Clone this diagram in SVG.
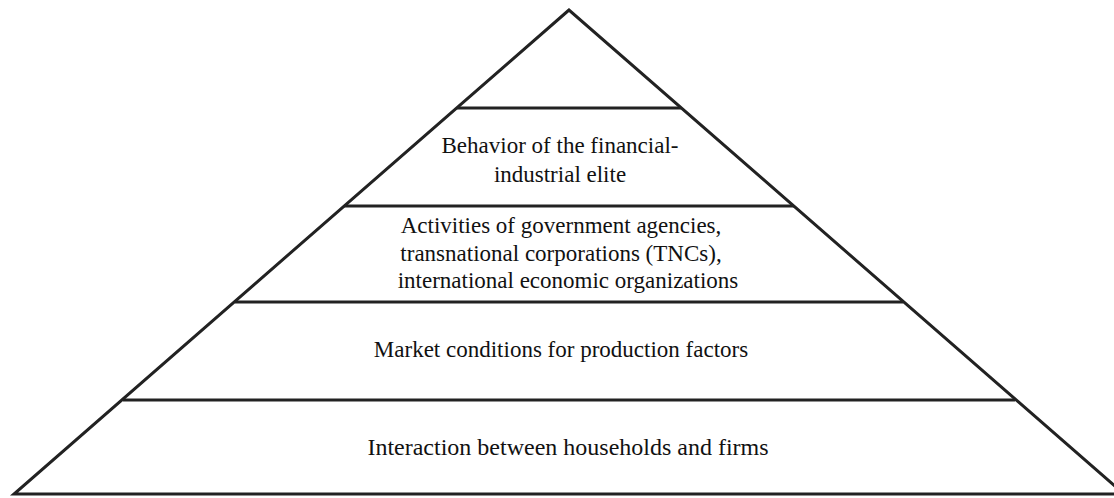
<svg xmlns="http://www.w3.org/2000/svg" width="1114" height="498" viewBox="0 0 1114 498">
<style>
.edge{stroke:#222;stroke-width:3;fill:none;stroke-linejoin:miter}
.lbl{font-family:"Liberation Serif","Times New Roman",serif;font-size:23px;fill:#111;text-anchor:middle}
</style>
<rect width="1114" height="498" fill="#fff"/>
<g id="connectors">
<polygon class="edge" points="569,10 14,494 1124,494"/>
<line class="edge" x1="457" y1="108" x2="681" y2="108"/>
<line class="edge" x1="344" y1="206" x2="794" y2="206"/>
<line class="edge" x1="235" y1="302" x2="903" y2="302"/>
<line class="edge" x1="123" y1="400" x2="1015" y2="400"/>
</g>
<g id="level-top"></g>
<g id="level-elite">
<text class="lbl" x="560" y="153">Behavior of the financial-</text>
<text class="lbl" x="560" y="182">industrial elite</text>
</g>
<g id="level-agencies">
<text class="lbl" x="561" y="233">Activities of government agencies,</text>
<text class="lbl" x="561" y="261">transnational corporations (TNCs),</text>
<text class="lbl" x="568" y="288">international economic organizations</text>
</g>
<g id="level-market">
<text class="lbl" x="561" y="357">Market conditions for production factors</text>
</g>
<g id="level-households">
<text class="lbl" x="568" y="455" style="font-size:24px">Interaction between households and firms</text>
</g>
</svg>
